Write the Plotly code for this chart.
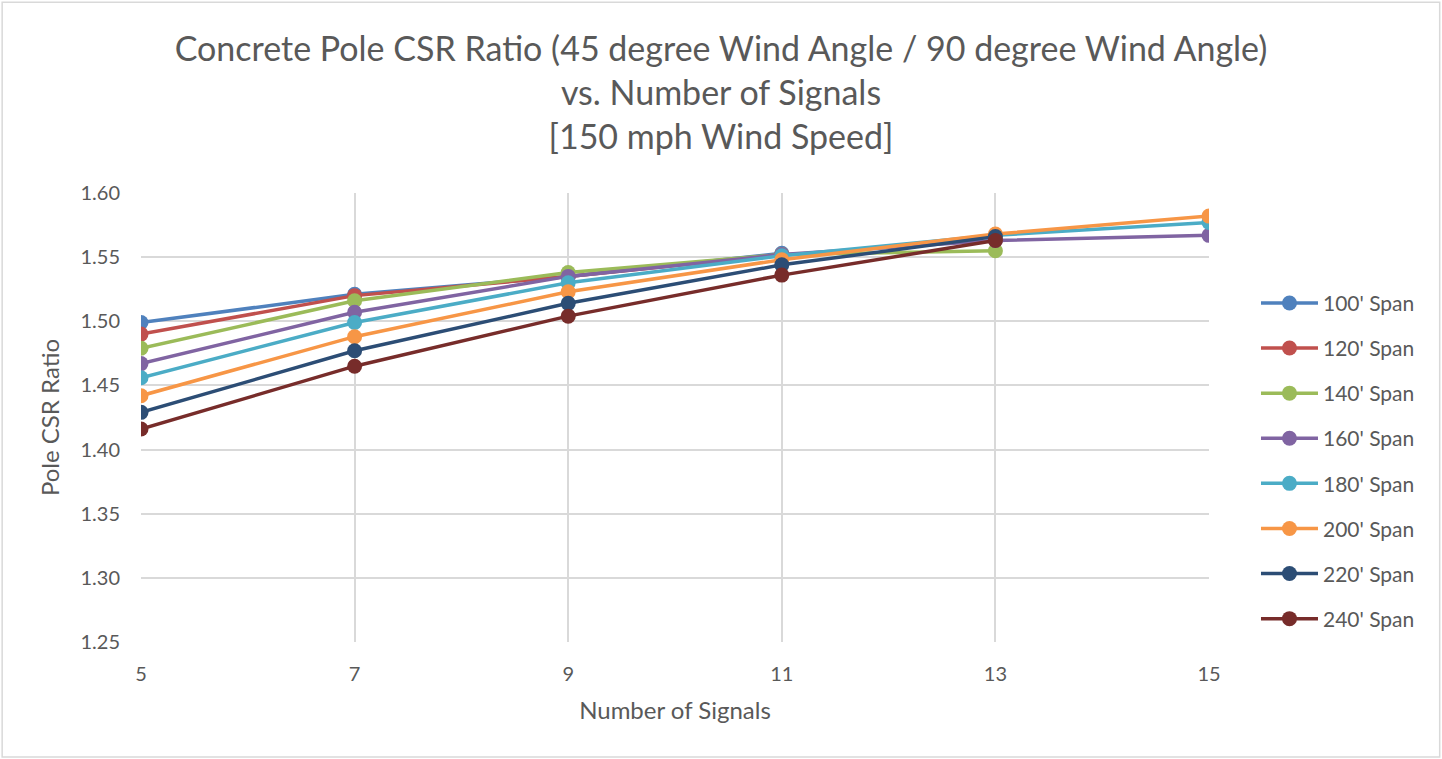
import plotly.graph_objects as go

signals = [5, 7, 9, 11, 13, 15]
span_names = ["100' Span", "120' Span", "140' Span", "160' Span",
              "180' Span", "200' Span", "220' Span", "240' Span"]
s100 = [1.499, 1.521, 1.535, 1.553]
s120 = [1.490, 1.520, 1.535, 1.552]
s140 = [1.479, 1.516, 1.538, 1.552, 1.555]
s160 = [1.467, 1.507, 1.535, 1.552, 1.563, 1.567]
s180 = [1.456, 1.499, 1.530, 1.551, 1.567, 1.577]
s200 = [1.442, 1.488, 1.523, 1.548, 1.568, 1.582]
s220 = [1.429, 1.477, 1.514, 1.544, 1.566]
s240 = [1.416, 1.465, 1.504, 1.536, 1.563]
series = [s100, s120, s140, s160, s180, s200, s220, s240]
colors = ["#4F81BD", "#C0504D", "#9BBB59", "#8064A2",
          "#4BACC6", "#F79646", "#2C4D75", "#772C2A"]
y_ticks = [1.25, 1.30, 1.35, 1.40, 1.45, 1.50, 1.55, 1.60]
x_ticks = [5, 7, 9, 11, 13, 15]

FONT = "Lato"
GREY = "#595959"
fig = go.Figure()
for name, vals, col in zip(span_names, series, colors):
    fig.add_trace(go.Scatter(
        x=signals[:len(vals)], y=vals, name=name, mode="lines+markers",
        line=dict(color=col, width=3.5), marker=dict(color=col, size=15),
        legendgroup=name))

fig.update_layout(
    width=1442, height=759,
    paper_bgcolor="white", plot_bgcolor="white",
    margin=dict(l=141, r=233, t=193, b=117),
    title=dict(text="Concrete Pole CSR Ratio (45 degree Wind Angle / 90 degree Wind Angle)<br>vs. Number of Signals<br>[150 mph Wind Speed]",
               x=0.5, xanchor="center", y=0.920, yanchor="top",
               font=dict(family=FONT, size=34, color=GREY)),
    font=dict(family=FONT, color=GREY),
    legend=dict(x=1.044, y=0.80, xanchor="left", yanchor="top",
                font=dict(size=21, color=GREY), tracegroupgap=14.8,
                itemwidth=57, bgcolor="rgba(0,0,0,0)"),
    xaxis=dict(range=[5, 15], tickvals=x_ticks, showgrid=True,
               gridcolor="#D9D9D9", gridwidth=1.5, zeroline=False,
               showline=False, ticks="", ticklabelstandoff=18,
               tickfont=dict(size=20, color=GREY),
               title=dict(text="Number of Signals", font=dict(size=24, color=GREY),
                          standoff=18)),
    yaxis=dict(range=[1.25, 1.60], tickvals=y_ticks, tickformat=".2f",
               showgrid=True, gridcolor="#D9D9D9", gridwidth=1.5, zeroline=False,
               showline=False, ticks="", ticklabelstandoff=20,
               tickfont=dict(size=20, color=GREY),
               title=dict(text="Pole CSR Ratio", font=dict(size=24, color=GREY),
                          standoff=14)),
)
fig.add_shape(type="rect", xref="paper", yref="paper", x0=-0.130, x1=1.216,
              y0=-0.256, y1=1.425, line=dict(color="#D9D9D9", width=1.5),
              layer="below")
fig.write_html("out.html", config={"displayModeBar": False},
               post_script="document.body.style.margin='0';")
